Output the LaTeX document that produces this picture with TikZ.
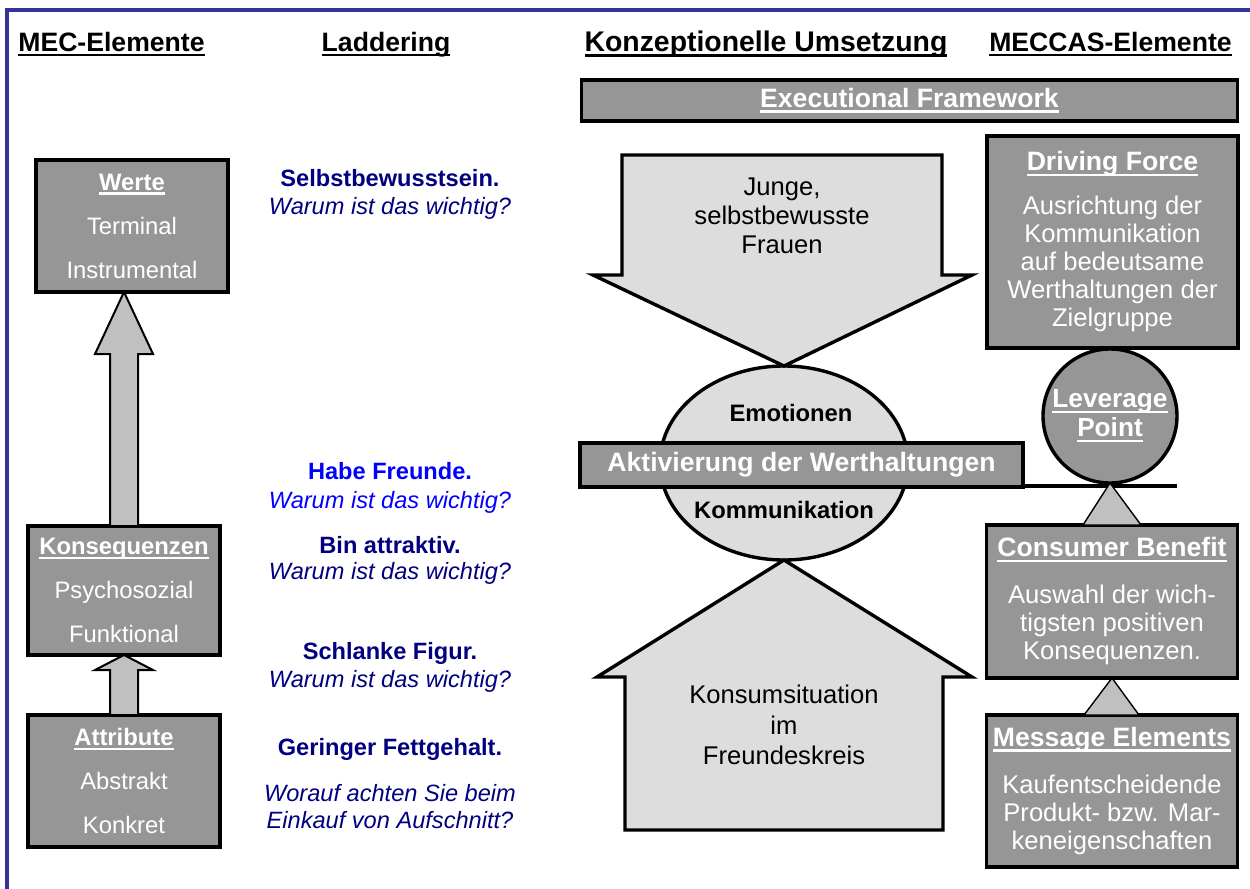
\documentclass[tikz,border=0pt]{standalone}
\usepackage{fontspec}
\setmainfont{Liberation Sans}
\usetikzlibrary{shapes.geometric,calc}

\definecolor{frameblue}{HTML}{333399}
\definecolor{boxgray}{HTML}{969696}
\definecolor{arrowgray}{HTML}{C0C0C0}
\definecolor{shapefill}{HTML}{DDDDDD}
\definecolor{navytext}{HTML}{000080}
\definecolor{bluetext}{HTML}{0000FF}

% thick underline that follows the current text colour
\newsavebox\ulinebox
\newcommand\ulword[1]{\sbox\ulinebox{#1}\rlap{\usebox\ulinebox}\rule[-0.2em]{\wd\ulinebox}{0.1em}}

\begin{document}
\begin{tikzpicture}[x=0.5pt,y=-0.5pt,
  frame/.style={draw=frameblue,line width=1.6pt},
  hdr/.style={anchor=base,font=\fontsize{13.3}{16}\selectfont\bfseries},
  mecbox/.style={draw=black,line width=1.7pt,fill=boxgray,text=white,
    minimum width=96pt,align=center,inner sep=0pt,outer sep=0pt,
    font=\fontsize{11.9}{22}\selectfont},
  meccasbox/.style={draw=black,line width=1.7pt,fill=boxgray,text=white,
    minimum width=125.5pt,align=center,inner sep=0pt,outer sep=0pt,
    font=\fontsize{12.8}{14}\selectfont},
  bar/.style={draw=black,line width=1.7pt,fill=boxgray,text=white,
    inner sep=0pt,outer sep=0pt,font=\fontsize{13.3}{16}\selectfont\bfseries},
  ladder/.style={align=center,text=navytext,font=\fontsize{11.8}{14}\selectfont},
  blockarrow/.style={draw=black,line width=1pt,fill=arrowgray,line join=miter},
  bigarrow/.style={draw=black,line width=1.7pt,fill=shapefill,line join=miter},
  tri/.style={draw=black,line width=0.7pt,fill=arrowgray},
  arrowtext/.style={align=center,font=\fontsize{12.8}{14.5}\selectfont}]

\useasboundingbox (0,0) rectangle (1250,889);
\fill[white] (0,0) rectangle (1250,889);

% outer frame (top and left edge)
\draw[frame] (7,900) -- (7,10) -- (1260,10);

% column headings
\node[hdr] (hMEC) at (111.5,51) {\ulword{MEC-Elemente}};
\node[hdr] (hLad) at (386,51) {\ulword{Laddering}};
\node[hdr,font=\fontsize{14.2}{16}\selectfont\bfseries] (hKon) at (766,51)
  {\ulword{Konzeptionelle Umsetzung}};
\node[hdr] (hMeccas) at (1110.5,51) {\ulword{MECCAS-Elemente}};

% MEC elements
\node[mecbox,minimum height=66pt] (werte) at (132,226)
  {{\bfseries\ulword{Werte}}\\Terminal\\Instrumental};
\node[mecbox,minimum height=64.5pt] (kons) at (124,590.5)
  {{\bfseries\ulword{Konsequenzen}}\\Psychosozial\\Funktional};
\node[mecbox,minimum height=66pt] (attr) at (124,781)
  {{\bfseries\ulword{Attribute}}\\Abstrakt\\Konkret};

% block arrows between the MEC levels
\draw[blockarrow] ($(kons.north)+(-14,0)$) -- ($(kons.north |- werte.south)+(-14,62)$)
  -- ++(-15,0) -- (kons.north |- werte.south) -- ($(kons.north |- werte.south)+(29,62)$)
  -- ++(-15,0) -- ($(kons.north)+(14,0)$) -- cycle;
\draw[blockarrow] ($(attr.north)+(-14,0)$) -- ($(kons.south)+(-14,15)$)
  -- ++(-15,0) -- (kons.south) -- ($(kons.south)+(29,15)$)
  -- ++(-15,0) -- ($(attr.north)+(14,0)$) -- cycle;

% laddering chain
\node[ladder] (l1) at (390,194)
  {{\bfseries Selbstbewusstsein.}\\{\itshape Warum ist das wichtig?}};
\node[ladder,text=bluetext,font=\fontsize{11.8}{14.5}\selectfont] (l2) at (390,487.5)
  {{\bfseries Habe Freunde.}\\{\itshape Warum ist das wichtig?}};
\node[ladder,font=\fontsize{11.8}{13}\selectfont] (l3) at (390,560)
  {{\bfseries Bin attraktiv.}\\{\itshape Warum ist das wichtig?}};
\node[ladder] (l4) at (390,667)
  {{\bfseries Schlanke Figur.}\\{\itshape Warum ist das wichtig?}};
\node[ladder,font=\fontsize{11.8}{14}\selectfont\bfseries] (l5) at (390,749)
  {Geringer Fettgehalt.};
\node[ladder,font=\fontsize{11.8}{13.5}\selectfont\itshape] (l6) at (390,806.5)
  {Worauf achten Sie beim\\Einkauf von Aufschnitt?};

% conceptual implementation
\node[bar,minimum width=328pt,minimum height=20.5pt] (exec) at (909.5,100.5)
  {\ulword{Executional Framework}};

\node[draw=black,ellipse,line width=1.7pt,fill=shapefill,minimum width=124pt,
  minimum height=97pt,inner sep=0pt,outer sep=0pt] (ell) at (784,463) {};

\draw[bigarrow] ($(ell.north)+(-162,-211)$) -- ($(ell.north)+(158,-211)$)
  -- ($(ell.north)+(158,-91)$) -- ($(ell.north)+(188,-91)$) -- (ell.north)
  -- ($(ell.north)+(-191,-91)$) -- ($(ell.north)+(-162,-91)$) -- cycle;
\node[arrowtext] (junge) at (782,216) {Junge,\\selbstbewusste\\Frauen};

\draw[bigarrow] (ell.south) -- ($(ell.south)+(188,117)$) -- ($(ell.south)+(159,117)$)
  -- ($(ell.south)+(159,270)$) -- ($(ell.south)+(-159,270)$)
  -- ($(ell.south)+(-159,117)$) -- ($(ell.south)+(-187,117)$) -- cycle;
\node[arrowtext,font=\fontsize{12.8}{15.2}\selectfont] (konsum) at (784,725)
  {Konsumsituation\\im\\Freundeskreis};

\node[font=\fontsize{11.9}{14}\selectfont\bfseries] (emo) at (791,413) {Emotionen};
\node[font=\fontsize{11.9}{14}\selectfont\bfseries] (komm) at (784,510) {Kommunikation};

\node[bar,minimum width=221.5pt,minimum height=22pt] (akt) at (801.5,465)
  {Aktivierung der Werthaltungen};

% MECCAS elements
\node[meccasbox,minimum height=106pt] (df) at (1112.5,242)
  {{\fontsize{13.3}{16}\selectfont\bfseries\ulword{Driving Force}}\\[8pt]
   Ausrichtung der\\Kommunikation\\auf bedeutsame\\Werthaltungen der\\Zielgruppe};
\node[circle,draw=black,line width=1.7pt,fill=boxgray,minimum size=67pt,inner sep=0pt,
  outer sep=0pt,text=white,align=center,font=\fontsize{13.1}{14.5}\selectfont\bfseries]
  (lev) at (1110,416) {\ulword{Leverage}\\\ulword{Point}};
\node[meccasbox,minimum height=76.5pt] (cb) at (1112,601.5)
  {{\fontsize{13.3}{16}\selectfont\bfseries\ulword{Consumer Benefit}}\\[9.5pt]
   Auswahl der wich-\\tigsten positiven\\Konsequenzen.};
\node[meccasbox,minimum height=76pt] (me) at (1112,791)
  {{\fontsize{13.3}{16}\selectfont\bfseries\ulword{Message Elements}}\\[9.5pt]
   Kaufentscheidende\\Produkt- bzw. Mar-\\keneigenschaften};

% lever: beam from the activation bar to the leverage point, fulcrums below
\draw[line width=1.6pt] ($(akt.south east)+(0,-1)$) -- ($(lev.east |- akt.south)+(0,-1)$);
\draw[tri] (lev.south) -- ($(cb.north)+(-29,0)$) -- ($(cb.north)+(29,0)$) -- cycle;
\draw[tri] (cb.south) -- ($(me.north)+(-28,0)$) -- ($(me.north)+(27,0)$) -- cycle;

\end{tikzpicture}
\end{document}
